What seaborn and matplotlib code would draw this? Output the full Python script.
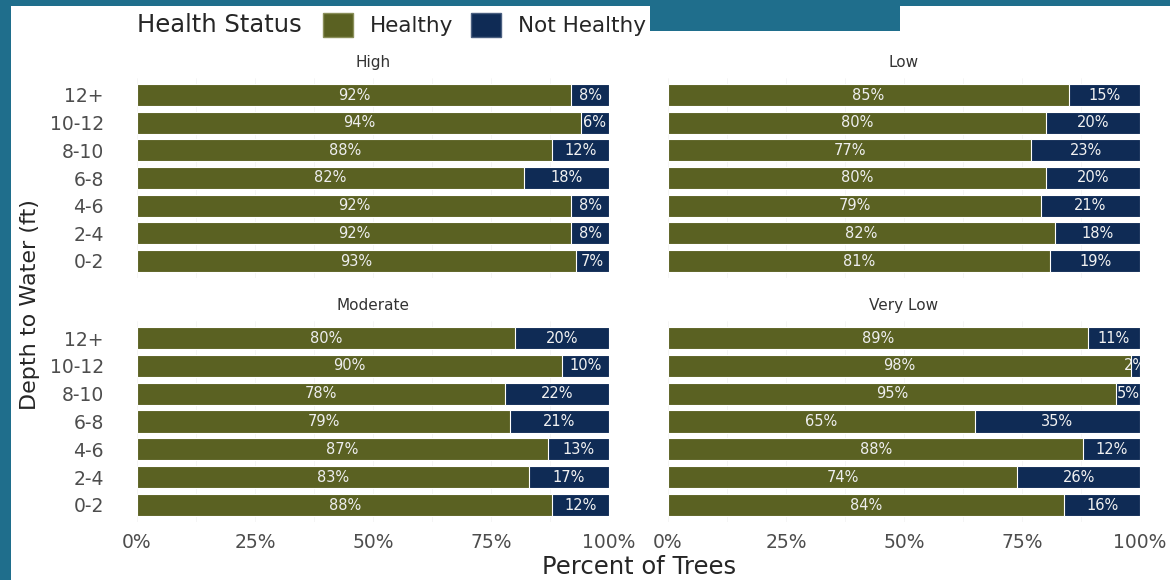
import pandas as pd
import seaborn as sns
import matplotlib.pyplot as plt
from matplotlib.patches import Rectangle, Patch
from matplotlib.ticker import MultipleLocator, PercentFormatter

depths = ["12+", "10-12", "8-10", "6-8", "4-6", "2-4", "0-2"]
panels = ["High", "Low", "Moderate", "Very Low"]

healthy_high = [92, 94, 88, 82, 92, 92, 93]
healthy_low = [85, 80, 77, 80, 79, 82, 81]
healthy_moderate = [80, 90, 78, 79, 87, 83, 88]
healthy_very_low = [89, 98, 95, 65, 88, 74, 84]

not_healthy_high = [8, 6, 12, 18, 8, 8, 7]
not_healthy_low = [15, 20, 23, 20, 21, 18, 19]
not_healthy_moderate = [20, 10, 22, 21, 13, 17, 12]
not_healthy_very_low = [11, 2, 5, 35, 12, 26, 16]

OLIVE = "#5a6122"
NAVY = "#0f2b55"
TEAL = "#1f6e8c"

rows = []
for name, h, n in zip(panels,
                      [healthy_high, healthy_low, healthy_moderate, healthy_very_low],
                      [not_healthy_high, not_healthy_low, not_healthy_moderate, not_healthy_very_low]):
    for d, hv, nv in zip(depths, h, n):
        rows.append({"panel": name, "depth": d, "healthy": hv, "not_healthy": nv, "total": hv + nv})
df = pd.DataFrame(rows)

sns.set_style("white")
plt.rcParams["font.family"] = ["DejaVu Sans"]

fig = plt.figure(figsize=(11.7, 5.8), dpi=100)
W, H = 1170, 580
boxes = {
    "High": (137, 78.4, 472, 199.2),
    "Low": (668, 78.4, 472, 199.2),
    "Moderate": (137, 321.3, 472, 200.4),
    "Very Low": (668, 321.3, 472, 200.4),
}

for name in panels:
    x0, y0, w, h = boxes[name]
    ax = fig.add_axes([x0 / W, 1 - (y0 + h) / H, w / W, h / H])
    sub = df[df["panel"] == name]
    ax.set_axisbelow(True)
    # full bar = not healthy, healthy drawn over it
    sns.barplot(data=sub, x="total", y="depth", order=depths, color=NAVY, width=0.8,
                edgecolor="white", linewidth=0.8, errorbar=None, saturation=1, ax=ax)
    sns.barplot(data=sub, x="healthy", y="depth", order=depths, color=OLIVE, width=0.8,
                edgecolor="white", linewidth=0.8, errorbar=None, saturation=1, ax=ax)
    for i, r in enumerate(sub.itertuples()):
        ax.text(r.healthy / 2, i, f"{r.healthy}%", ha="center", va="center",
                color="#eeeeee", fontsize=10.5, clip_on=True)
        ax.text(r.healthy + r.not_healthy / 2, i, f"{r.not_healthy}%", ha="center",
                va="center", color="#f2f2f2", fontsize=10.5, clip_on=True)
    ax.set_xlim(0, 100)
    ax.set_ylim(6.6, -0.6)
    ax.xaxis.set_major_locator(MultipleLocator(25))
    ax.xaxis.set_minor_locator(MultipleLocator(12.5))
    ax.xaxis.set_major_formatter(PercentFormatter(decimals=0))
    ax.grid(axis="x", which="both", color="#f2f2f2", lw=0.5)
    ax.grid(axis="y", visible=False)
    for s in ax.spines.values():
        s.set_visible(False)
    ax.tick_params(which="both", length=0, labelsize=13.5, labelcolor="#4d4d4d")
    ax.tick_params(axis="y", pad=24)
    ax.tick_params(axis="x", pad=8)
    ax.set_xlabel("")
    ax.set_ylabel("")
    ax.set_title(name, fontsize=11, color="#333333", pad=8)
    if name in ("High", "Low"):
        ax.set_xticklabels([])
    if name in ("Low", "Very Low"):
        ax.set_yticklabels([])

fig.text(639 / W, 1 - 567 / H, "Percent of Trees", ha="center", va="center", fontsize=17.5)
fig.text(30 / W, 1 - 305 / H, "Depth to Water (ft)", ha="center", va="center",
         rotation=90, fontsize=16)

fig.text(137 / W, 1 - 25 / H, "Health Status", ha="left", va="center", fontsize=17.5)
handles = [Patch(facecolor=OLIVE, edgecolor="#8a8f5a", label="Healthy"),
           Patch(facecolor=NAVY, edgecolor="#4a5f80", label="Not Healthy")]
fig.legend(handles=handles, loc="center left", bbox_to_anchor=(323 / W, 1 - 25 / H),
           ncol=2, frameon=False, fontsize=15.5, borderpad=0, borderaxespad=0,
           handlelength=1.4, handleheight=1.3, handletextpad=0.8, columnspacing=0.8)

# slide frame around the chart
fig.patches.append(Rectangle((0, 0), 11 / W, 1, transform=fig.transFigure,
                             facecolor=TEAL, edgecolor="none", zorder=5))
fig.patches.append(Rectangle((0, 1 - 6 / H), 1, 6 / H, transform=fig.transFigure,
                             facecolor=TEAL, edgecolor="none", zorder=5))
fig.patches.append(Rectangle((650 / W, 1 - 31 / H), 250 / W, 25 / H, transform=fig.transFigure,
                             facecolor=TEAL, edgecolor="none", zorder=5))

fig.savefig("out.png", dpi=100)
